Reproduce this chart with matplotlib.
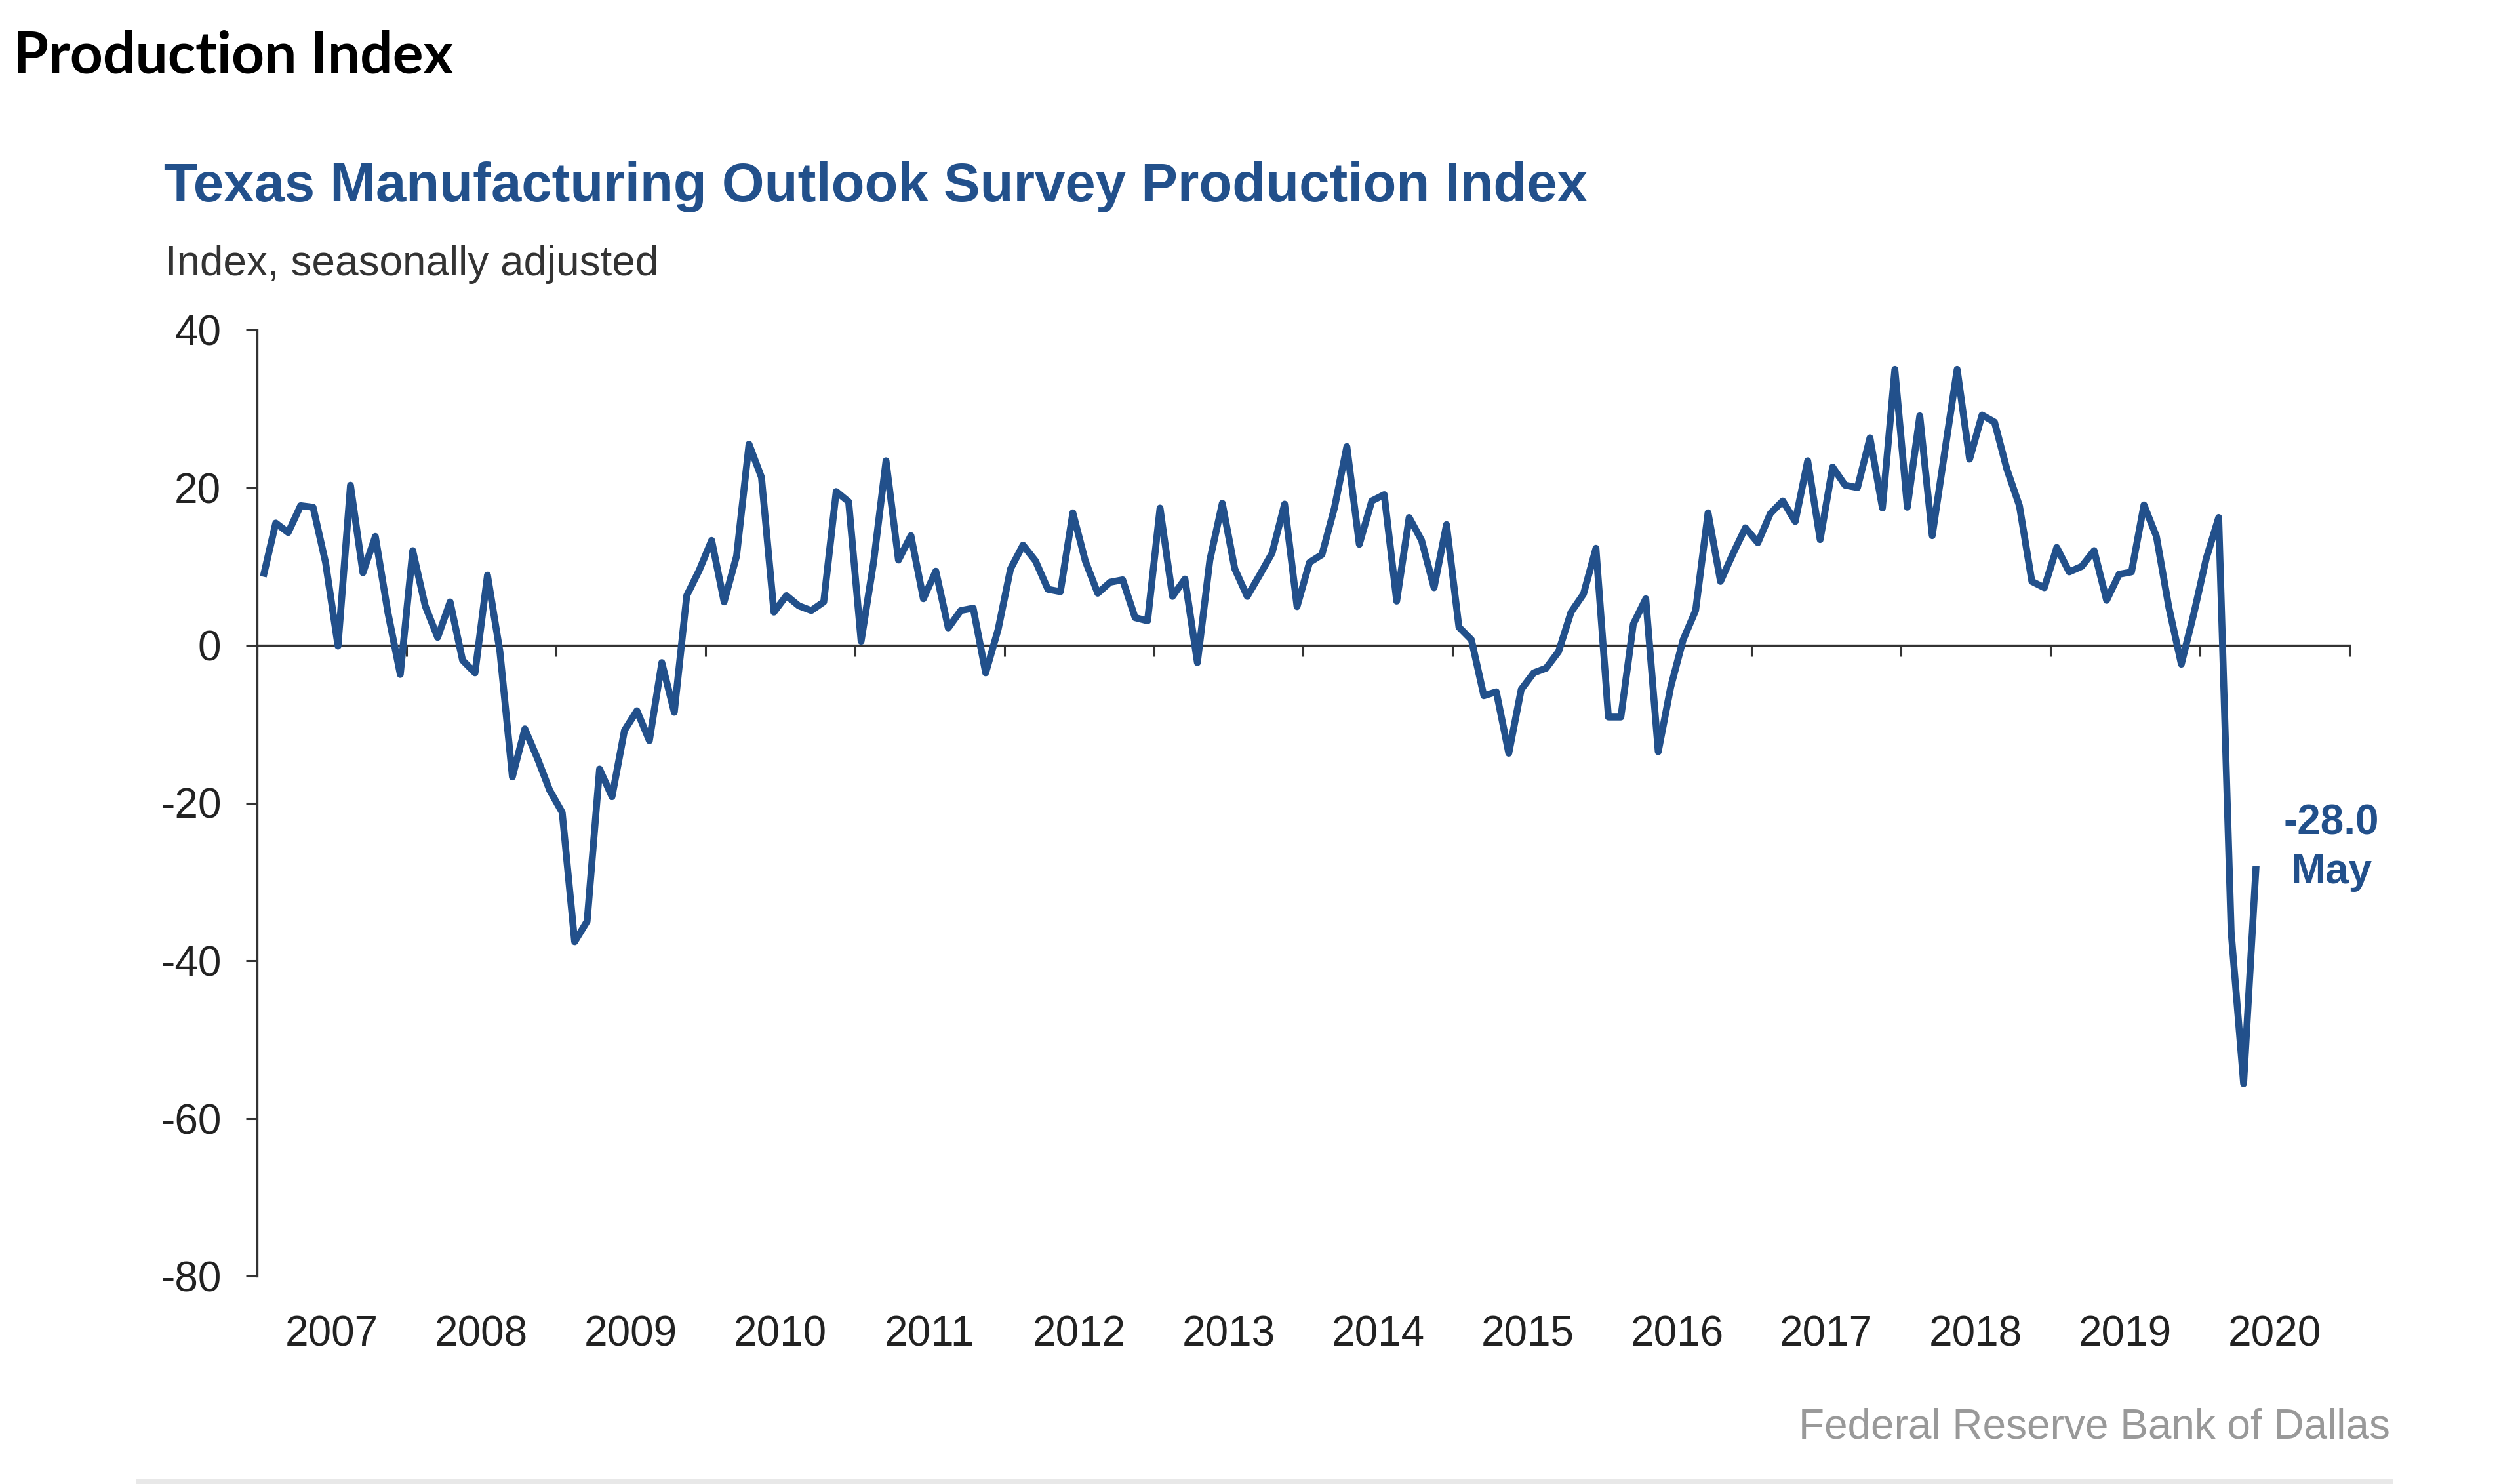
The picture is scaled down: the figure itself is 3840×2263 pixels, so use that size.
import numpy as np
import matplotlib
matplotlib.use("Agg")
import matplotlib.pyplot as plt
from matplotlib.patches import Rectangle

plt.rcParams['font.family'] = ['Liberation Sans', 'DejaVu Sans']

# ---------------- data (monthly, Jan 2007 - May 2020) ----------------
start_year = 2007
end_year = 2020
values_2007 = [8.7, 15.5, 14.3, 17.7, 17.5, 10.5, -0.1, 20.3, 9.2, 13.8, 4.2, -3.7]
values_2008 = [12.0, 5.0, 1.0, 5.5, -1.9, -3.5, 8.9, -0.8, -16.7, -10.6, -14.3, -18.4]
values_2009 = [-21.2, -37.6, -35.0, -15.7, -19.2, -10.8, -8.3, -12.1, -2.2, -8.5, 6.3, 9.5]
values_2010 = [13.3, 5.5, 11.3, 25.5, 21.3, 4.2, 6.3, 5.0, 4.4, 5.5, 19.5, 18.2]
values_2011 = [0.5, 10.5, 23.4, 10.8, 13.9, 5.9, 9.4, 2.2, 4.4, 4.7, -3.5, 2.0]
values_2012 = [9.7, 12.7, 10.7, 7.1, 6.8, 16.8, 10.7, 6.6, 8.0, 8.3, 3.5, 3.1]
values_2013 = [17.4, 6.2, 8.4, -2.2, 10.8, 18.0, 9.7, 6.2, 8.9, 11.7, 17.9, 4.9]
values_2014 = [10.5, 11.5, 17.4, 25.2, 12.8, 18.3, 19.1, 5.6, 16.2, 13.3, 7.3, 15.3]
values_2015 = [2.3, 0.7, -6.4, -5.9, -13.7, -5.6, -3.5, -2.9, -0.8, 4.2, 6.5, 12.3]
values_2016 = [-9.1, -9.1, 2.7, 5.9, -13.5, -5.3, 0.7, 4.4, 16.8, 8.1, 11.6, 14.9]
values_2017 = [13.0, 16.7, 18.3, 15.7, 23.4, 13.4, 22.6, 20.3, 20.0, 26.3, 17.4, 35.0]
values_2018 = [17.5, 29.1, 13.9, 24.5, 35.0, 23.6, 29.2, 28.3, 22.3, 17.7, 8.1, 7.3]
values_2019 = [12.4, 9.3, 10.0, 12.0, 5.7, 9.0, 9.3, 17.8, 13.8, 4.8, -2.4, 4.0]
values_2020 = [11.0, 16.2, -36.3, -55.6, -28.0]

year_labels = [str(y) for y in range(start_year, end_year + 1)]
y_ticks = [-80, -60, -40, -20, 0, 20, 40]
last_label_month = "May"

values = (values_2007 + values_2008 + values_2009 + values_2010 + values_2011 +
          values_2012 + values_2013 + values_2014 + values_2015 + values_2016 +
          values_2017 + values_2018 + values_2019 + values_2020)

# ---------------- styling ----------------
BLUE = '#22508b'
AXC = '#333333'
W, H = 3840, 2263
DPI = 100

fig = plt.figure(figsize=(W / DPI, H / DPI), dpi=DPI)
fig.patch.set_facecolor('white')

left_px, right_px, top_px, bottom_px = 392, 3583, 503, 1946
ax = fig.add_axes([left_px / W, 1 - bottom_px / H,
                   (right_px - left_px) / W, (bottom_px - top_px) / H])

n_years = end_year - start_year + 1
x = np.arange(len(values)) + 0.5          # month centres, 0 = start of Jan 2007
ax.plot(x, values, color=BLUE, lw=7.6, solid_joinstyle='round',
        solid_capstyle='butt', zorder=3)

ax.set_xlim(0, 12 * n_years)
ax.set_ylim(-80, 40)

for s in ['top', 'right']:
    ax.spines[s].set_visible(False)
ax.spines['left'].set_color(AXC)
ax.spines['left'].set_linewidth(2.4)
ax.spines['bottom'].set_position(('data', 0))
ax.spines['bottom'].set_color(AXC)
ax.spines['bottom'].set_linewidth(2.4)

ax.set_xticks(np.arange(0, 12 * n_years + 1, 12))
ax.tick_params(axis='x', direction='out', length=12.5, width=2.2,
               color=AXC, labelbottom=False)
ax.set_yticks(y_ticks)
ax.set_yticklabels([str(v) for v in y_ticks])
ax.tick_params(axis='y', direction='out', length=12.5, width=2.2,
               color=AXC, labelsize=46, labelcolor='#222222', pad=27)

sec = ax.secondary_xaxis('bottom')
sec.set_xticks(np.arange(n_years) * 12 + 6, labels=year_labels)
sec.tick_params(length=0, pad=43, labelsize=46, labelcolor='#222222')
sec.spines['bottom'].set_visible(False)

# annotation of last value (va='baseline' aligns the last line's baseline)
ax.annotate(f"{values[-1]:.1f}\n{last_label_month}", xy=(x[-1], values[-1]),
            xytext=(115, -26), textcoords='offset pixels',
            ha='center', va='baseline', fontsize=46, fontweight='bold',
            color=BLUE, linespacing=1.3)

# ---------------- texts ----------------
fig.text(20 / W, 1 - 111 / H, 'Production Index', fontsize=63,
         fontweight='bold', family=['Lato', 'DejaVu Sans'], color='black',
         va='baseline', ha='left')
fig.text(250 / W, 1 - 307 / H,
         'Texas Manufacturing Outlook Survey Production Index',
         fontsize=60, fontweight='bold', color=BLUE, va='baseline', ha='left')
fig.text(252 / W, 1 - 420 / H, 'Index, seasonally adjusted', fontsize=46,
         color='#333333', va='baseline', ha='left')
fig.text(3645 / W, 1 - 2193 / H, 'Federal Reserve Bank of Dallas',
         fontsize=46, color='#999999', va='baseline', ha='right')

fig.add_artist(Rectangle((208 / W, 0), (3650 - 208) / W, 8 / H,
                         transform=fig.transFigure, color='#e8e8e8', lw=0))

fig.savefig('out.png', dpi=DPI, facecolor='white')
